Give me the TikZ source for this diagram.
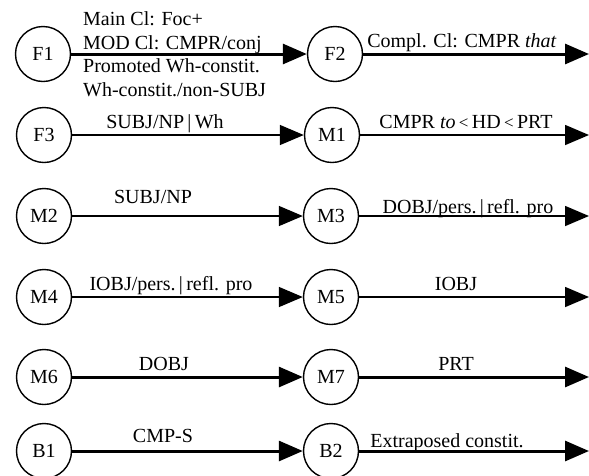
\documentclass[tikz,border=0pt]{standalone}
\usepackage{fontspec}
\setmainfont{Liberation Serif}
\usetikzlibrary{arrows.meta}
\begin{document}
\begin{tikzpicture}[x=1pt,y=-1pt,
  state/.style={circle,draw,line width=1.4pt,minimum size=55pt,inner sep=0pt,font=\fontsize{20}{23.5}\selectfont},
  lbl/.style={anchor=base,inner sep=0pt,font=\fontsize{20}{23.5}\selectfont},
  thickarr/.style={line width=3pt,-{Triangle[length=24pt,width=20pt]}},
  thinarr/.style={line width=1.6pt,-{Triangle[length=24pt,width=20pt]}}]
\useasboundingbox (0,0) rectangle (589,475);
% states
\node[state] (F1) at (43,54) {F1};
\node[state] (F2) at (335,54) {F2};
\node[state] (F3) at (44,135) {F3};
\node[state] (M1) at (332,135) {M1};
\node[state] (M2) at (44,216) {M2};
\node[state] (M3) at (331,216) {M3};
\node[state] (M4) at (44,297) {M4};
\node[state] (M5) at (331,297) {M5};
\node[state] (M6) at (44,377) {M6};
\node[state] (M7) at (331,377) {M7};
\node[state] (B1) at (44,451) {B1};
\node[state] (B2) at (331,451) {B2};
% free ends
\coordinate (F2e) at (589,54);
\coordinate (M1e) at (589,135);
\coordinate (M3e) at (589,216);
\coordinate (M5e) at (589,297);
\coordinate (M7e) at (589,377);
\coordinate (B2e) at (589,451);
% connectors
\draw[thickarr] (F1) -- (F2);
\draw[thickarr] (F2) -- (F2e);
\draw[thinarr] (F3) -- (M1);
\draw[thinarr] (M1) -- (M1e);
\draw[thinarr] (M2) -- (M3);
\draw[thinarr] (M3) -- (M3e);
\draw[thinarr] (M4) -- (M5);
\draw[thinarr] (M5) -- (M5e);
\draw[thickarr] (M6) -- (M7);
\draw[thickarr] (M7) -- (M7e);
\draw[thickarr] (B1) -- (B2);
\draw[thickarr] (B2) -- (B2e);
% labels
\node[lbl,anchor=west,align=left] (lF1) at (83,54) {Main Cl: Foc+\\MOD Cl: CMPR/conj\\Promoted Wh-constit.\\Wh-constit./non-SUBJ};
\node[lbl] (lF2) at (462,47) {Compl. Cl: CMPR \textit{that}};
\node[lbl] (lF3) at (165,128) {SUBJ/NP\,|\,Wh};
\node[lbl] (lM1) at (466,128) {CMPR \textit{to}\,{\fontsize{17}{18}\selectfont <}\,HD\,{\fontsize{17}{18}\selectfont <}\,PRT};
\node[lbl] (lM2) at (153,203) {SUBJ/NP};
\node[lbl] (lM3) at (468,213) {DOBJ/pers.\,|\,refl. pro};
\node[lbl] (lM4) at (171,290) {IOBJ/pers.\,|\,refl. pro};
\node[lbl] (lM5) at (456,290) {IOBJ};
\node[lbl] (lM6) at (164,370) {DOBJ};
\node[lbl] (lM7) at (456,370) {PRT};
\node[lbl] (lB1) at (163,442) {CMP-S};
\node[lbl] (lB2) at (447,447) {Extraposed constit.};
\end{tikzpicture}
\end{document}
